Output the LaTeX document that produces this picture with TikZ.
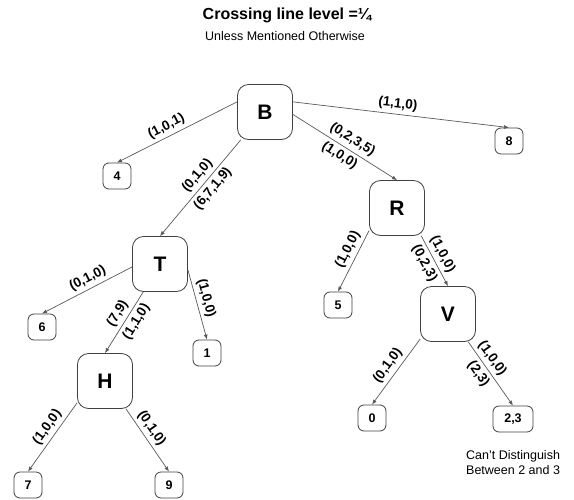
\documentclass[tikz,border=0pt]{standalone}
\usepackage{fontspec}
\setmainfont{Liberation Sans}
\usetikzlibrary{arrows.meta}
\tikzset{
	% Two node styles for the tree: inner nodes and leaves
	big node/.style={draw=black!75,line width=0.8pt,rounded corners=11pt,minimum width=55pt,minimum height=55pt,inner sep=0pt,font=\fontsize{21}{21}\selectfont\bfseries},
	leaf node/.style={draw=black!75,line width=0.8pt,rounded corners=6pt,minimum width=28pt,minimum height=26pt,inner sep=2pt,font=\fontsize{12.5}{12.5}\selectfont\bfseries},
	% Branches and their sloped labels
	branch/.style={draw=black!65,line width=0.7pt,-{Latex[length=5pt,width=4pt]}},
	lbl/.style={sloped,inner sep=3.5pt,font=\fontsize{13.5}{13.5}\selectfont\bfseries}
}

\begin{document}
\begin{tikzpicture}[x=1pt,y=-1pt]
	\useasboundingbox (0,0) rectangle (574,499);
	
	\node (title) at (287,15) {\fontsize{16}{16}\selectfont\bfseries Crossing line level =¼};
	\node (sub) at (285,36) {\fontsize{12.5}{12.5}\selectfont Unless Mentioned Otherwise};
	
	% Inner nodes
	\node[big node] (B) at (265,112) {B};
	\node[big node] (T) at (160,264) {T};
	\node[big node] (R) at (397,208) {R};
	\node[big node] (V) at (448,314) {V};
	\node[big node] (H) at (105,381) {H};
	
	% Leaves
	\node[leaf node] (4) at (117,176) {4};
	\node[leaf node] (8) at (509,141) {8};
	\node[leaf node] (6) at (42,327) {6};
	\node[leaf node] (1) at (207,353) {1};
	\node[leaf node] (5) at (338,305) {5};
	\node[leaf node] (0) at (372,418) {0};
	\node[leaf node,minimum width=40pt] (23) at (513,419) {2,3};
	\node[leaf node] (7) at (28,485) {7};
	\node[leaf node] (9) at (169,485) {9};
	
	\node[anchor=west,align=left,inner sep=0pt,font=\fontsize{12.5}{15}\selectfont] (note) at (466,463) {Can't Distinguish\\Between 2 and 3};
	
	% Branches out of B
	\draw[branch] (B.160) -- node[lbl,above,pos=0.55]{(1,0,1)} (4.north);
	\draw[branch] (B.20) -- node[lbl,above,pos=0.48]{(1,1,0)} (8.north);
	\draw[branch] (B.229) -- node[lbl,above,pos=0.44]{(0,1,0)} node[lbl,below,pos=0.44]{(6,7,1,9)} (T.north);
	\draw[branch] (B.-5) -- node[lbl,above,pos=0.52]{(0,2,3,5)} node[lbl,below,pos=0.5]{(1,0,0)} (R.north);
	
	% Branches out of T
	\draw[branch] (T.186) -- node[lbl,above,pos=0.44]{(0,1,0)} (6.north);
	\draw[branch] (T.239) -- node[lbl,above,pos=0.44]{(7,9)} node[lbl,below,pos=0.4]{(1,1,0)} (H.north);
	\draw[branch] (T.-12) -- node[lbl,above,pos=0.44]{(1,0,0)} (1.north);
	
	% Branches out of R
	\draw[branch] (R.219) -- node[lbl,above,pos=0.39]{(1,0,0)} (5.north);
	\draw[branch] (R.-49) -- node[lbl,above,pos=0.46]{(1,0,0)} node[lbl,below,pos=0.45]{(0,2,3)} (V.north);
	
	% Branches out of V
	\draw[branch] (V.222) -- node[lbl,above,pos=0.5]{(0,1,0)} (0.north);
	\draw[branch] (V.-54) -- node[lbl,above,pos=0.35]{(1,0,0)} node[lbl,below,pos=0.41]{(2,3)} (23.north);
	
	% Branches out of H
	\draw[branch] (H.218) -- node[lbl,above,pos=0.44]{(1,0,0)} (7.north);
	\draw[branch] (H.-53) -- node[lbl,above,pos=0.4]{(0,1,0)} (9.north);
\end{tikzpicture}
\end{document}
